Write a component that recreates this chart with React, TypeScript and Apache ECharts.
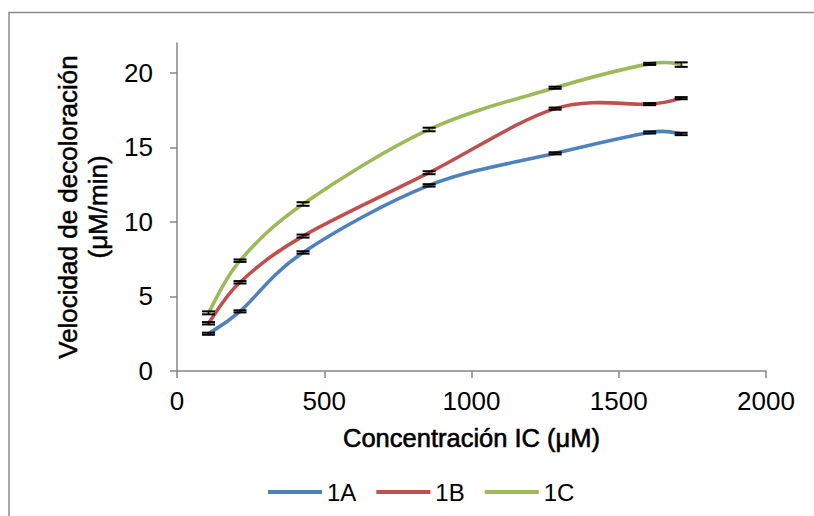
import React, { useEffect, useRef } from "react";
import * as echarts from "echarts";

// Concentración IC (µM) at which each rate was measured
const concentrations = [107, 214, 428, 856, 1284, 1605, 1712];

// Decolouration rate (µM/min) per sample
const rate1A = [2.5, 4.0, 7.95, 12.45, 14.6, 16.0, 15.9];
const rate1B = [3.2, 5.95, 9.05, 13.3, 17.6, 17.9, 18.3];
const rate1C = [3.9, 7.4, 11.2, 16.2, 19.0, 20.6, 20.55];

// Standard deviation of each rate
const err1A = [0.07, 0.07, 0.08, 0.08, 0.07, 0.07, 0.08];
const err1B = [0.08, 0.08, 0.1, 0.1, 0.07, 0.07, 0.07];
const err1C = [0.1, 0.08, 0.12, 0.12, 0.07, 0.07, 0.15];

const seriesNames = ["1A", "1B", "1C"];
const seriesColors = ["#4F81BD", "#C0504D", "#9BBB59"];

const xTicks = [0, 500, 1000, 1500, 2000];
const yTicks = [0, 5, 10, 15, 20];

const AXIS_GREY = "#868686";
const SANS = "'Liberation Sans', Arial, sans-serif";

function errorRows(values: number[], errs: number[]) {
  return concentrations.map((c, i) => [c, values[i] - errs[i], values[i] + errs[i]]);
}

// One data row per segment between consecutive measurements
function segmentRows(values: number[]) {
  return concentrations.slice(0, -1).map((c, i) => [c, values[i], concentrations[i + 1], values[i + 1]]);
}

// Smoothed curve segment (Catmull-Rom style bezier through the measured points)
function makeCurveRenderer(values: number[], color: string) {
  return (params: any, api: any) => {
    const i = params.dataIndex;
    const n = concentrations.length;
    const pt = (k: number) => {
      const kk = Math.max(0, Math.min(n - 1, k));
      return api.coord([concentrations[kk], values[kk]]);
    };
    const p0 = pt(i - 1);
    const p1 = pt(i);
    const p2 = pt(i + 1);
    const p3 = pt(i + 2);
    const t = 1 / 6;
    return {
      type: "bezierCurve",
      shape: {
        x1: p1[0],
        y1: p1[1],
        x2: p2[0],
        y2: p2[1],
        cpx1: p1[0] + (p2[0] - p0[0]) * t,
        cpy1: p1[1] + (p2[1] - p0[1]) * t,
        cpx2: p2[0] - (p3[0] - p1[0]) * t,
        cpy2: p2[1] - (p3[1] - p1[1]) * t,
      },
      style: { stroke: color, lineWidth: 3.6, fill: "none", lineCap: "round" },
    };
  };
}

// Vertical whisker with caps at both ends
function renderErrorBar(_params: any, api: any) {
  const x = api.value(0);
  const lo = api.coord([x, api.value(1)]);
  const hi = api.coord([x, api.value(2)]);
  const half = 6.5;
  const style = { stroke: "#000", lineWidth: 2 };
  return {
    type: "group",
    children: [
      { type: "line", shape: { x1: lo[0], y1: lo[1], x2: hi[0], y2: hi[1] }, style: { stroke: "#000", lineWidth: 1 } },
      { type: "line", shape: { x1: lo[0] - half, y1: lo[1], x2: lo[0] + half, y2: lo[1] }, style },
      { type: "line", shape: { x1: hi[0] - half, y1: hi[1], x2: hi[0] + half, y2: hi[1] }, style },
    ],
  };
}

export default function App() {
  const ref = useRef<HTMLDivElement>(null);

  useEffect(() => {
    if (!ref.current) return;
    const chart = echarts.init(ref.current, undefined, { renderer: "svg" });

    const values = [rate1A, rate1B, rate1C];
    const errors = [err1A, err1B, err1C];

    const curveSeries = values.map((v, i) => ({
      name: seriesNames[i],
      type: "custom",
      renderItem: makeCurveRenderer(v, seriesColors[i]),
      data: segmentRows(v),
      encode: { x: [0, 2], y: [1, 3] },
      itemStyle: { color: seriesColors[i] },
      z: 2,
      silent: true,
    }));

    const barSeries = values.map((v, i) => ({
      name: seriesNames[i] + " error",
      type: "custom",
      renderItem: renderErrorBar,
      data: errorRows(v, errors[i]),
      encode: { x: 0, y: [1, 2] },
      z: 3,
      silent: true,
    }));

    chart.setOption({
      animation: false,
      backgroundColor: "#ffffff",
      color: seriesColors,
      graphic: [
        {
          type: "rect",
          shape: { x: 9, y: 12.5, width: 900, height: 600 },
          style: { fill: "none", stroke: "#8c8c8c", lineWidth: 1.5 },
          silent: true,
        },
      ],
      grid: {
        left: 177,
        right: 48,
        top: 43,
        bottom: 145,
        containLabel: false,
        outerBoundsMode: "none",
      },
      legend: {
        data: seriesNames,
        left: 263,
        top: 475,
        icon: "rect",
        itemWidth: 54,
        itemHeight: 4,
        itemGap: 20,
        textStyle: { fontFamily: SANS, fontSize: 24, color: "#000" },
      },
      xAxis: {
        type: "value",
        min: 0,
        max: 2000,
        interval: 500,
        name: "Concentración IC (μM)",
        nameLocation: "middle",
        nameGap: 54,
        nameTextStyle: {
          fontFamily: SANS,
          fontSize: 25.5,
          color: "#000",
          textBorderColor: "#000",
          textBorderWidth: 0.6,
        },
        axisLine: { show: true, lineStyle: { color: AXIS_GREY, width: 1.5 } },
        axisTick: { show: true, length: 7, lineStyle: { color: AXIS_GREY, width: 1.5 }, customValues: xTicks },
        axisLabel: {
          fontFamily: SANS,
          fontSize: 26,
          color: "#000",
          margin: 17,
          customValues: xTicks,
          formatter: (v: number) => String(v),
        },
        splitLine: { show: false },
      },
      yAxis: {
        type: "value",
        min: 0,
        max: 22,
        interval: 5,
        name: "Velocidad de decoloración\n(μM/min)",
        nameLocation: "middle",
        nameRotate: 90,
        nameGap: 64,
        nameTextStyle: {
          fontFamily: SANS,
          fontSize: 26,
          lineHeight: 30,
          color: "#000",
          align: "center",
          textBorderColor: "#000",
          textBorderWidth: 0.5,
        },
        axisLine: { show: true, lineStyle: { color: AXIS_GREY, width: 1.5 } },
        axisTick: { show: true, length: 7, lineStyle: { color: AXIS_GREY, width: 1.5 }, customValues: yTicks },
        axisLabel: {
          fontFamily: SANS,
          fontSize: 26,
          color: "#000",
          margin: 24,
          customValues: yTicks,
          formatter: (v: number) => String(v),
        },
        splitLine: { show: false },
      },
      series: [...curveSeries, ...barSeries],
    });

    return () => chart.dispose();
  }, []);

  return (
    <div
      ref={ref}
      style={{ position: "fixed", left: 0, top: 0, width: 814, height: 516, background: "#fff" }}
    />
  );
}
